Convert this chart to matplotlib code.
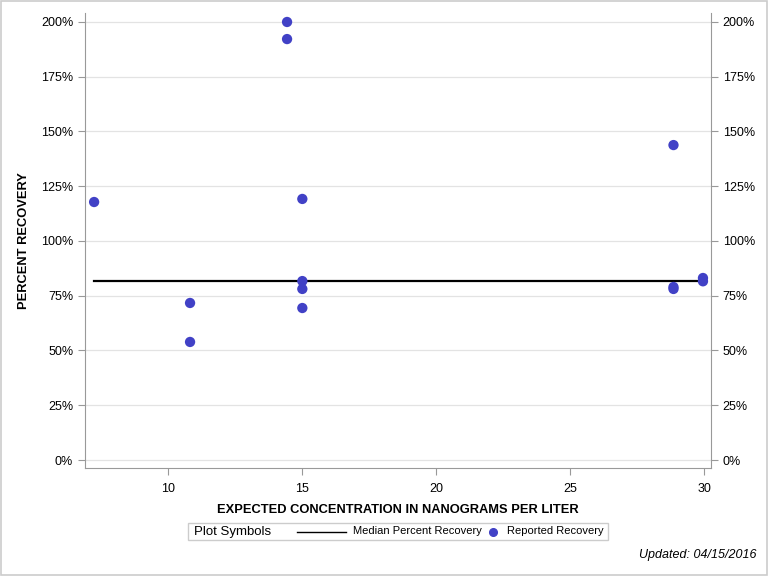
import numpy as np
import matplotlib.pyplot as plt
from matplotlib.lines import Line2D
from matplotlib.patches import Rectangle

plt.rcParams['font.family'] = ['Liberation Sans', 'DejaVu Sans']

# expected concentration (ng/L) and percent recovery
conc = [7.23, 10.81, 10.81, 14.43, 14.43, 15.0, 15.0, 15.0, 15.0,
        28.85, 28.85, 28.85, 29.95, 29.95]
recovery = [117.8, 71.7, 53.9, 200.0, 192.2, 119.2, 81.7, 78.1, 69.4,
            143.8, 79.0, 78.1, 83.1, 81.6]
median_rec = 81.7
yticks = [0, 25, 50, 75, 100, 125, 150, 175, 200]
xticks = [10, 15, 20, 25, 30]

W, H = 768, 576
fig = plt.figure(figsize=(7.68, 5.76), dpi=100)
ax = fig.add_axes([85/W, 1-468/H, 626/W, 455/H])

dot = '#4141C6'
ax.plot([min(conc), max(conc)], [median_rec, median_rec], color='black', lw=1.6, zorder=3)
ax.scatter(conc, recovery, s=55, color=dot, edgecolor='none', zorder=4)

ax.set_xlim(6.89, 30.25)
ax.set_ylim(-3.65, 204.1)
ax.set_xticks(xticks)
ax.set_yticks(yticks)
ax.set_yticklabels([f'{t}%' for t in yticks])
ax.grid(axis='y', color='#e3e3e3', lw=0.9)
ax.set_axisbelow(True)
for s in ax.spines.values():
    s.set_color('#999999')
ax.spines['top'].set_visible(False)
ax.tick_params(colors='#999999', labelcolor='black', labelsize=9, length=5)
ax.tick_params(axis='x', pad=6)
ax.tick_params(axis='y', right=True, labelright=True)

ax.set_xlabel('EXPECTED CONCENTRATION IN NANOGRAMS PER LITER', fontsize=9.3,
              fontweight='bold', labelpad=6)
ax.set_ylabel('PERCENT RECOVERY', fontsize=9.3, fontweight='bold', labelpad=8)

# legend, drawn by hand in pixel positions
def px(x, y):
    return x / W, 1 - y / H

ly = 531.5
fig.patches.append(Rectangle(px(188, 540), 420/W, 17/H, transform=fig.transFigure,
                             fill=False, edgecolor='#cccccc', lw=1))
fig.text(*px(194, ly), 'Plot Symbols', fontsize=9.5, va='center', ha='left')
fig.lines.append(Line2D([297/W, 346/W], [1-ly/H]*2, transform=fig.transFigure,
                        color='black', lw=1))
fig.text(*px(353, ly), 'Median Percent Recovery', fontsize=8, va='center', ha='left')
fig.lines.append(Line2D([493/W], [1-ly/H], transform=fig.transFigure, color=dot,
                        marker='o', markersize=5.5, ls='none'))
fig.text(*px(507, ly), 'Reported Recovery', fontsize=8, va='center', ha='left')

fig.text(0.985, 1-555/H, 'Updated: 04/15/2016', ha='right', va='center',
         fontsize=9, style='italic')

fig.patches.append(Rectangle((0.001, 0.001), 0.998, 0.998, transform=fig.transFigure,
                             fill=False, edgecolor='#cccccc', lw=1.2))

fig.savefig('out.png', dpi=100)
